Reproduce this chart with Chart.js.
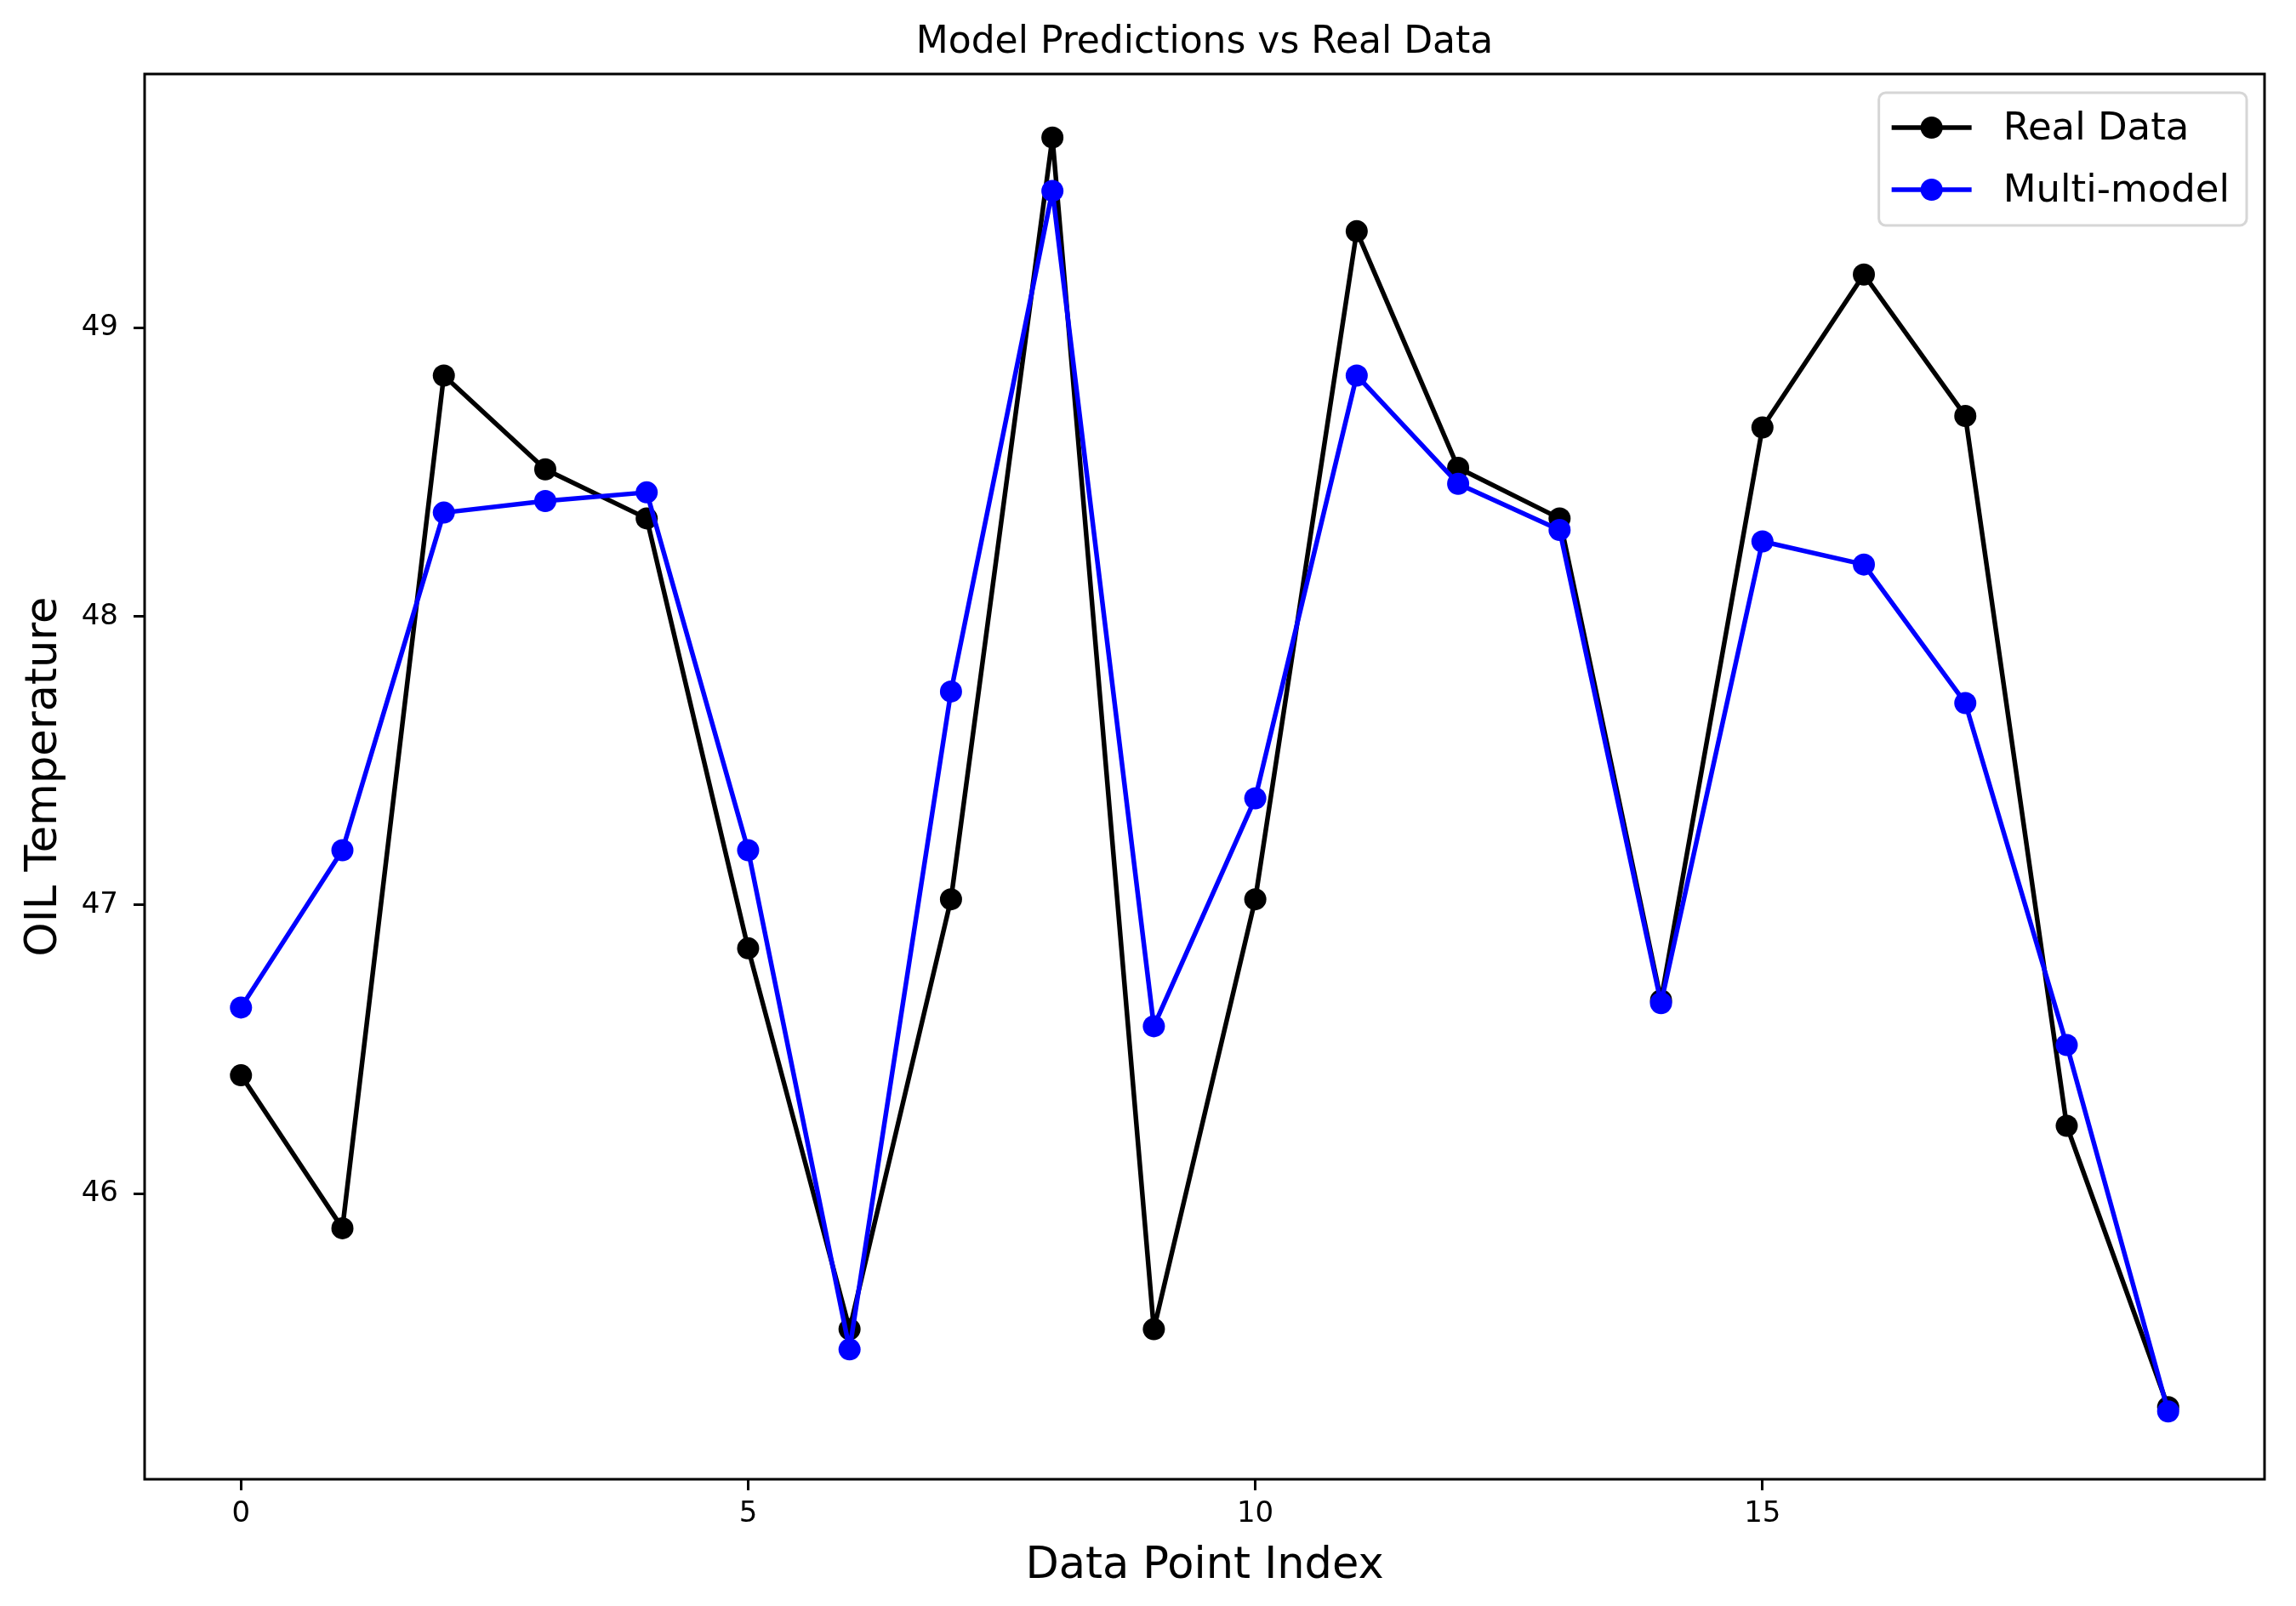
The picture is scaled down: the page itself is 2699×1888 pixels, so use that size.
<!DOCTYPE html>
<html>
<head>
<meta charset="utf-8">
<script src="https://cdn.jsdelivr.net/npm/chart.js@4.4.1/dist/chart.umd.min.js"></script>
<style>
  html, body { margin: 0; padding: 0; background: #fff; }
  canvas { display: block; }
</style>
</head>
<body>
<canvas id="chart" width="2699" height="1888"></canvas>
<script>
// values
const indices = [0, 1, 2, 3, 4, 5, 6, 7, 8, 9, 10, 11, 12, 13, 14, 15, 16, 17, 18, 19]
const realData = [46.41, 45.88, 48.835, 48.51, 48.34, 46.85, 45.53, 47.02, 49.66, 45.53,
                  47.02, 49.335, 48.515, 48.34, 46.67, 48.655, 49.185, 48.695, 46.235, 45.26]
const multiModel = [46.645, 47.19, 48.36, 48.40, 48.43, 47.19, 45.46, 47.74, 49.475, 46.58,
                    47.37, 48.835, 48.46, 48.30, 46.66, 48.26, 48.18, 47.70, 46.515, 45.245]
const xTicks = [0, 5, 10, 15]
const yTicks = [46, 47, 48, 49]

const FONT = '"DejaVu Sans", "Liberation Sans", sans-serif'
Chart.defaults.font.family = FONT
Chart.defaults.color = '#000'

const toPoints = values => values.map((v, i) => ({ x: indices[i], y: v }))

// white page behind everything
const background = {
    id: 'background',
    beforeDraw(chart) {
        const { ctx, width, height } = chart
        ctx.save()
        ctx.fillStyle = '#fff'
        ctx.fillRect(0, 0, width, height)
        ctx.restore()
    }
}

// matplotlib style box round the plot area
const frame = {
    id: 'frame',
    afterDatasetsDraw(chart) {
        const { ctx, chartArea: a } = chart
        ctx.save()
        ctx.strokeStyle = '#000'
        ctx.lineWidth = 3
        ctx.strokeRect(a.left, a.top, a.right - a.left, a.bottom - a.top)
        ctx.restore()
    }
}

// legend inside the upper right corner
const innerLegend = {
    id: 'innerLegend',
    afterDraw(chart) {
        const { ctx, chartArea: a } = chart
        const sets = chart.data.datasets
        ctx.save()
        ctx.font = '45px ' + FONT
        const textW = Math.max(...sets.map(d => ctx.measureText(d.label).width))
        const boxW = 146 + textW + 20
        const boxH = 156
        const x = a.right - 21 - boxW
        const y = a.top + 22
        ctx.beginPath()
        ctx.roundRect(x, y, boxW, boxH, 8)
        ctx.fillStyle = 'rgba(255,255,255,0.8)'
        ctx.fill()
        ctx.strokeStyle = '#d6d6d6'
        ctx.lineWidth = 3
        ctx.stroke()
        sets.forEach((d, i) => {
            const cy = y + 41 + i * 73
            ctx.strokeStyle = d.borderColor
            ctx.lineWidth = d.borderWidth
            ctx.beginPath()
            ctx.moveTo(x + 15, cy)
            ctx.lineTo(x + 109, cy)
            ctx.stroke()
            ctx.fillStyle = d.pointBackgroundColor
            ctx.beginPath()
            ctx.arc(x + 62, cy, d.pointRadius, 0, Math.PI * 2)
            ctx.fill()
            ctx.fillStyle = '#000'
            ctx.textBaseline = 'middle'
            ctx.textAlign = 'left'
            ctx.fillText(d.label, x + 146, cy + 2)
        })
        ctx.restore()
    }
}

const line = (label, values, color, order) => ({
    label,
    data: toPoints(values),
    borderColor: color,
    backgroundColor: color,
    pointBackgroundColor: color,
    pointBorderWidth: 0,
    pointRadius: 13,
    borderWidth: 5.5,
    borderJoinStyle: 'round',
    tension: 0,
    fill: false,
    order
})

new Chart(document.getElementById('chart'), {
    type: 'line',
    data: {
        datasets: [
            line('Real Data', realData, '#000000', 1),
            line('Multi-model', multiModel, '#0000ff', 0)
        ]
    },
    options: {
        responsive: false,
        animation: false,
        devicePixelRatio: 1,
        layout: { padding: { left: 0, right: 37, top: 0, bottom: 0 } },
        plugins: {
            legend: { display: false },
            tooltip: { enabled: false },
            title: {
                display: true,
                text: 'Model Predictions vs Real Data',
                fullSize: false,
                color: '#000',
                font: { size: 44, weight: 'normal' },
                padding: { top: 24.6, bottom: 9.6 }
            }
        },
        scales: {
            x: {
                type: 'linear',
                min: -0.95,
                max: 19.95,
                afterBuildTicks: s => { s.ticks = xTicks.map(v => ({ value: v })) },
                afterFit: s => { s.height = 149 },
                ticks: { font: { size: 34 }, color: '#000', padding: 8, maxRotation: 0 },
                grid: { display: true, drawOnChartArea: false, drawTicks: true, tickLength: 13, tickWidth: 3, tickColor: '#000' },
                border: { display: false },
                title: { display: true, text: 'Data Point Index', color: '#000', font: { size: 51 }, padding: { top: 0, bottom: 16 } }
            },
            y: {
                type: 'linear',
                min: 45.01,
                max: 49.88,
                afterBuildTicks: s => { s.ticks = yTicks.map(v => ({ value: v })) },
                afterFit: s => { s.width = 170 },
                ticks: { font: { size: 34 }, color: '#000', padding: 18 },
                grid: { display: true, drawOnChartArea: false, drawTicks: true, tickLength: 13, tickWidth: 3, tickColor: '#000' },
                border: { display: false },
                title: { display: true, text: 'OIL Temperature', color: '#000', font: { size: 51 }, padding: { top: 22, bottom: 0 } }
            }
        }
    },
    plugins: [background, frame, innerLegend]
})
</script>
</body>
</html>
